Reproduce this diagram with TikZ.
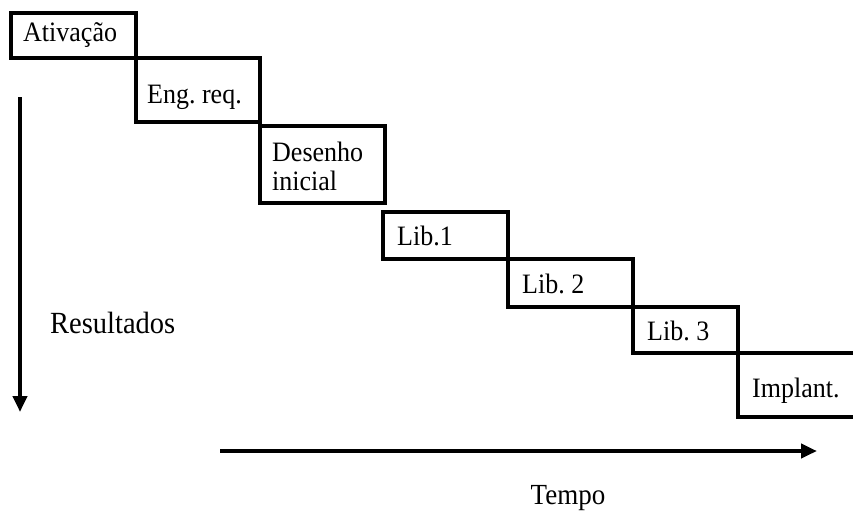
\documentclass[tikz,border=0pt]{standalone}
\usepackage{fontspec}
\setmainfont{Liberation Serif}
\usetikzlibrary{arrows.meta}
\newcommand{\tallt}[1]{\scalebox{1}[1.08]{#1}}
\begin{document}
\frenchspacing
\begin{tikzpicture}[x=1pt,y=-1pt,
  stage/.style={draw=black,line width=4pt},
  lbl/.style={anchor=west,inner sep=0pt,font=\fontsize{26}{28}\selectfont,align=left},
  axis/.style={line width=4pt,-{Triangle[width=14pt,length=16pt]}},
  axlbl/.style={inner sep=0pt,font=\fontsize{27}{30}\selectfont}]
\useasboundingbox (0,0) rectangle (853,517);
\clip (0,0) rectangle (853,517);
% boxes
\draw[stage] (11,13) rectangle (136,58);
\draw[stage] (136,58) rectangle (260,122);
\draw[stage] (260,126) rectangle (385,203);
\draw[stage] (383,212) rectangle (508,259);
\draw[stage] (508,259) rectangle (633,307);
\draw[stage] (633,307) rectangle (738,353);
\draw[stage] (738,353) rectangle (880,417);
% labels
\node[lbl] (t1) at (23,35) {\tallt{Ativação}};
\node[lbl] (t2) at (147,97) {\tallt{Eng. req.}};
\node[lbl,font=\fontsize{26}{29}\selectfont] (t3) at (272,166) {\tallt{Desenho}\\\tallt{inicial}};
\node[lbl] (t4) at (397,236) {\tallt{Lib.1}};
\node[lbl] (t5) at (522,284) {\tallt{Lib. 2}};
\node[lbl] (t6) at (647,331) {\tallt{Lib. 3}};
\node[lbl] (t7) at (752,391) {\tallt{Implant.}};
% axes
\coordinate (vA) at (20,97);
\coordinate (vB) at (20,412);
\draw[axis] (vA) -- (vB);
\coordinate (hA) at (220,451);
\coordinate (hB) at (817,451);
\draw[axis] (hA) -- (hB);
\node[axlbl,anchor=west,font=\fontsize{28.5}{30}\selectfont] (res) at (50,323) {\tallt{Resultados}};
\node[axlbl] (tempo) at (568,498) {\tallt{Tempo}};
\end{tikzpicture}
\end{document}
